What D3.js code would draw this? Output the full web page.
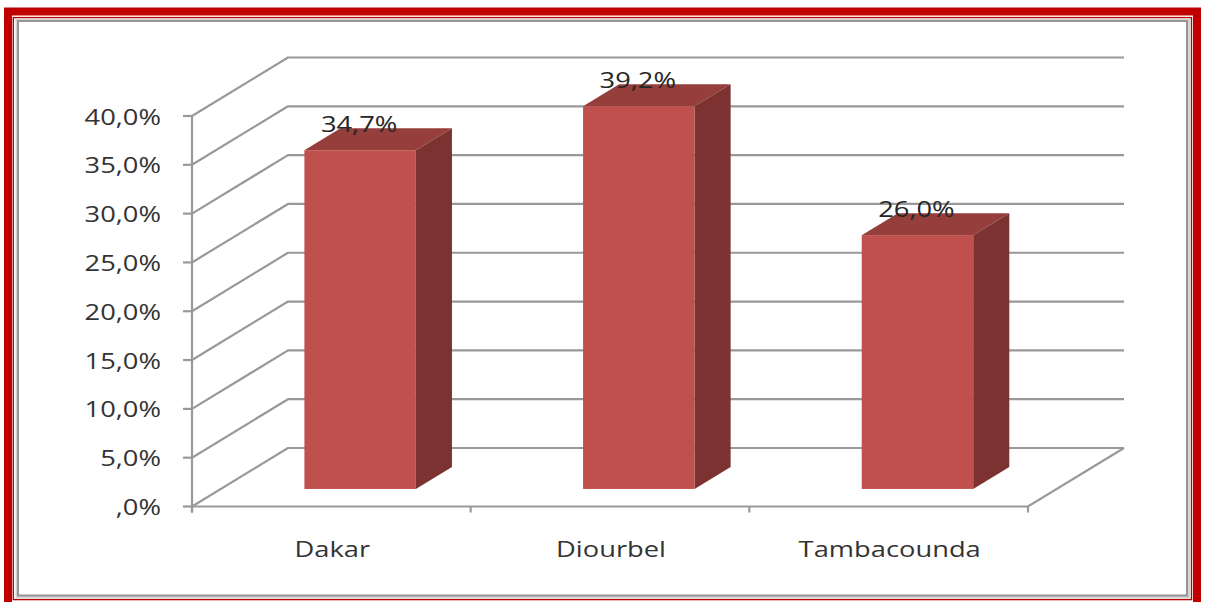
<!DOCTYPE html>
<html>
<head>
<meta charset="utf-8">
<script src="https://cdn.jsdelivr.net/npm/d3@7"></script>
<style>
  html, body { margin: 0; padding: 0; background: #ffffff; }
  svg { display: block; }
</style>
</head>
<body>
<svg id="chart" width="1205" height="602"></svg>
<script>
// ---- data ----
const categories = ["Dakar", "Diourbel", "Tambacounda"];
const values = [34.7, 39.2, 26.0];
const valueLabels = ["34,7%", "39,2%", "26,0%"];
const yTickValues = [0, 5, 10, 15, 20, 25, 30, 35, 40];
const yTickLabels = [",0%", "5,0%", "10,0%", "15,0%", "20,0%", "25,0%", "30,0%", "35,0%", "40,0%"];

// ---- layout ----
const svg = d3.select("#chart");
const W = 1205, H = 602;
const plotLeft = 192, plotRight = 1028;
const depthDx = 96, depthDy = -58.5;
const barF0 = 0.3, barF1 = 0.676;
const textStretch = 1.3;
const fontFam = "'Open Sans', 'DejaVu Sans', sans-serif";

const x = d3.scaleBand().domain(categories).range([plotLeft, plotRight]).paddingInner(0).paddingOuter(0);
const y = d3.scaleLinear().domain([0, 40]).range([506.5, 116]);
const y0 = y(0);

// ---- frame ----
svg.append("rect").attr("x", 0).attr("y", 0).attr("width", W).attr("height", H).attr("fill", "#ffffff");
svg.append("rect").attr("x", 8).attr("y", 11.5).attr("width", 1189).attr("height", 600)
  .attr("fill", "none").attr("stroke", "#c00000").attr("stroke-width", 8);
svg.append("rect").attr("x", 13.3).attr("y", 17.6).attr("width", 1178.2).attr("height", 582)
  .attr("fill", "none").attr("stroke", "#c00000").attr("stroke-width", 1.4);
// inner chart area with grey border and soft shadow
svg.append("rect").attr("x", 17.5).attr("y", 20.5).attr("width", 1171).attr("height", 576)
  .attr("fill", "none").attr("stroke", "#d4d4d4").attr("stroke-width", 4);
svg.append("rect").attr("x", 18).attr("y", 21).attr("width", 1169).attr("height", 574.5)
  .attr("fill", "#ffffff").attr("stroke", "#959595").attr("stroke-width", 2);

const gridColor = "#999999";
const g = svg.append("g");

// ---- walls / gridlines ----
yTickValues.forEach(t => {
  const yy = y(t);
  g.append("path")
    .attr("d", `M${plotLeft},${yy} L${plotLeft + depthDx},${yy + depthDy} L${plotRight + depthDx},${yy + depthDy}`)
    .attr("fill", "none").attr("stroke", gridColor).attr("stroke-width", 2.2)
    .attr("stroke-linejoin", "round");
});

// floor front + right edge
g.append("path")
  .attr("d", `M${plotLeft},${y0} L${plotRight},${y0} L${plotRight + depthDx},${y0 + depthDy}`)
  .attr("fill", "none").attr("stroke", gridColor).attr("stroke-width", 2.2);

// vertical axis
g.append("line").attr("x1", plotLeft).attr("x2", plotLeft).attr("y1", y(40)).attr("y2", y0 + 6)
  .attr("stroke", gridColor).attr("stroke-width", 2.2);
// y ticks
yTickValues.forEach(t => {
  g.append("line").attr("x1", plotLeft - 9).attr("x2", plotLeft).attr("y1", y(t)).attr("y2", y(t))
    .attr("stroke", gridColor).attr("stroke-width", 2.2);
});
// x ticks at band boundaries
const xBounds = categories.map(c => x(c)).concat([plotRight]);
xBounds.forEach(b => {
  g.append("line").attr("x1", b).attr("x2", b).attr("y1", y0).attr("y2", y0 + 6)
    .attr("stroke", gridColor).attr("stroke-width", 2.2);
});

// ---- tick labels ----
yTickValues.forEach((t, i) => {
  g.append("text")
    .attr("transform", `translate(161,${y(t) + 8.5}) scale(${textStretch},1)`)
    .attr("text-anchor", "end")
    .attr("font-family", fontFam).attr("font-size", 21).attr("fill", "#333333")
    .text(yTickLabels[i]);
});
categories.forEach(c => {
  g.append("text")
    .attr("transform", `translate(${x(c) + x.bandwidth() / 2 + 1},${557}) scale(${textStretch},1)`)
    .attr("text-anchor", "middle")
    .attr("font-family", fontFam).attr("font-size", 21).attr("fill", "#333333")
    .text(c);
});

// ---- bars ----
const barW = x.bandwidth() * 0.4;
const ox0 = barF0 * depthDx, oy0 = barF0 * depthDy;
const bdx = (barF1 - barF0) * depthDx, bdy = (barF1 - barF0) * depthDy;

categories.forEach((c, i) => {
  const left = x(c) + (x.bandwidth() - barW) / 2 + ox0;
  const right = left + barW;
  const bottom = y0 + oy0;
  const top = y(values[i]) + oy0;
  const bg = g.append("g");
  // side
  bg.append("path")
    .attr("d", `M${right},${top} L${right + bdx},${top + bdy} L${right + bdx},${bottom + bdy} L${right},${bottom} Z`)
    .attr("fill", "#7b3230");
  // top
  bg.append("path")
    .attr("d", `M${left},${top} L${left + bdx},${top + bdy} L${right + bdx},${top + bdy} L${right},${top} Z`)
    .attr("fill", "#953e3b");
  // front
  bg.append("rect").attr("x", left).attr("y", top).attr("width", barW).attr("height", bottom - top)
    .attr("fill", "#c0504d");
  // value label
  g.append("text")
    .attr("transform", `translate(${left + barW / 2 - 1},${top + bdy + 3.5}) scale(${textStretch},1)`)
    .attr("text-anchor", "middle")
    .attr("font-family", fontFam).attr("font-size", 21).attr("fill", "#262626")
    .text(valueLabels[i]);
});
</script>
</body>
</html>
